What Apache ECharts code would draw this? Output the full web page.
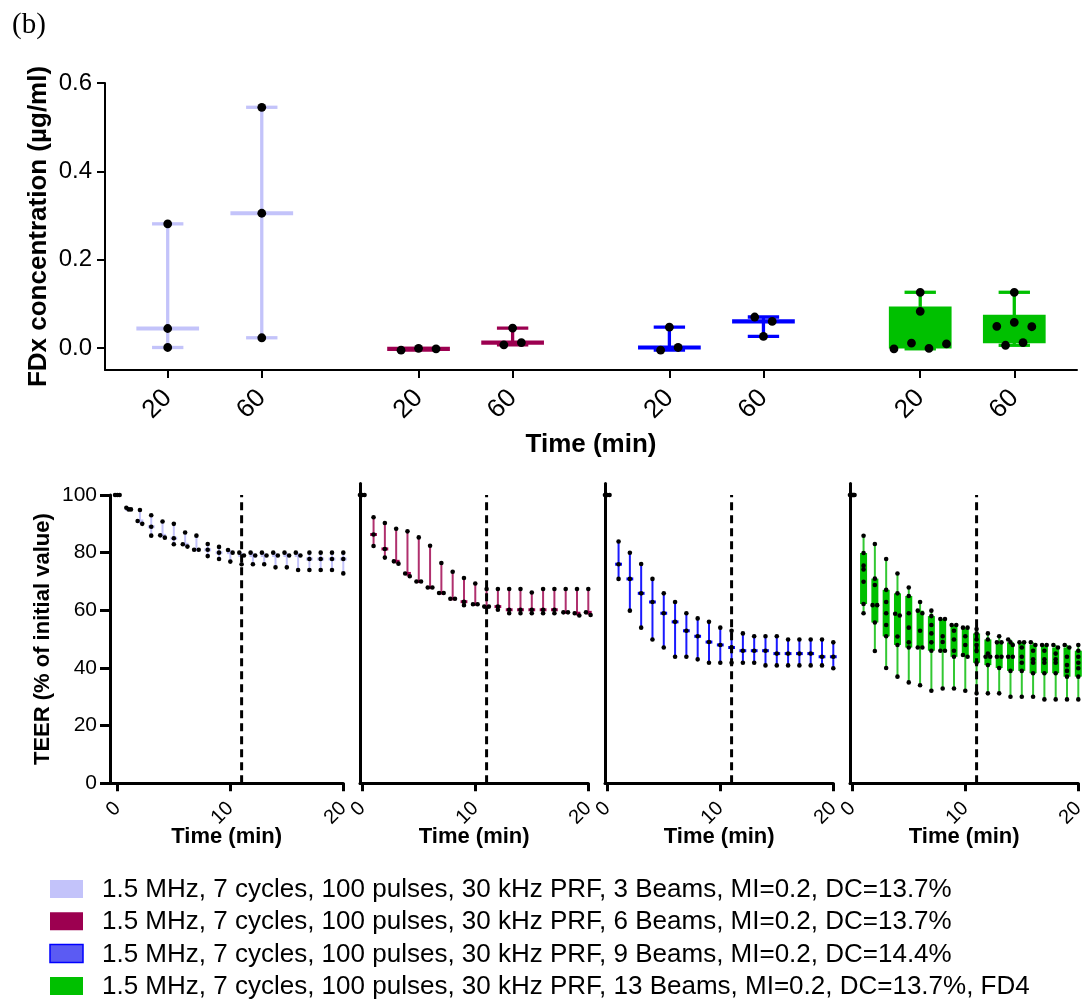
<!DOCTYPE html>
<html>
<head>
<meta charset="utf-8">
<script src="https://cdn.jsdelivr.net/npm/echarts@6/dist/echarts.min.js"></script>
<style>
  html, body { margin: 0; padding: 0; background: #fff; }
  #chart { width: 1090px; height: 1007px; }
</style>
</head>
<body>
<div id="chart"></div>
<script>
// ---------- FDx permeability (µg/ml), per condition, per time point ----------
const fdxTimes = ['20', '60'];
const fdxBeams3  = [[0.281, 0.044, 0.001], [0.545, 0.305, 0.023]];
const fdxBeams6  = [[-0.005, -0.001, -0.002], [0.045, 0.007, 0.012]];
const fdxBeams9  = [[0.047, -0.005, 0.001], [0.070, 0.060, 0.026]];
const fdxBeams13 = [[0.126, 0.083, -0.002, 0.011, -0.001, 0.009],
                    [0.126, 0.049, 0.058, 0.048, 0.006, 0.012]];
const fdxTicks = [0, 0.2, 0.4, 0.6];

// ---------- TEER (% of initial value), one row per minute ----------
const teerTimes = [0, 1, 2, 3, 4, 5, 6, 7, 8, 9, 10, 11, 12, 13, 14, 15, 16, 17, 18, 19, 20];
const teerBeams3 = [
  [100, 100, 100], [95.6, 95.0, 95.0], [94.8, 91.0, 90.0], [93.0, 89.0, 85.9],
  [90.8, 86.0, 85.2], [90.0, 85.0, 82.9], [87.0, 82.9, 82.1], [85.9, 81.0, 81.0],
  [83.0, 81.0, 78.8], [82.0, 80.0, 77.8], [80.9, 80.0, 76.9], [80.0, 79.0, 76.0],
  [80.0, 79.0, 76.0], [80.0, 79.0, 76.0], [80.0, 79.0, 74.9], [80.0, 79.0, 74.9],
  [80.0, 79.0, 74.0], [80.0, 77.8, 74.0], [80.0, 77.8, 74.0], [80.0, 77.8, 74.0],
  [80.0, 77.8, 72.8]
];
const teerBeams6 = [
  [100, 100, 100], [92.3, 86.3, 82.3], [90.3, 81.3, 78.3], [88.3, 77.0, 76.2],
  [87.4, 72.8, 71.8], [85.3, 70.0, 70.0], [82.4, 67.9, 67.9], [76.4, 66.0, 66.0],
  [73.4, 64.0, 64.0], [71.2, 63.0, 61.8], [69.3, 62.1, 62.1], [67.4, 61.3, 61.3],
  [67.4, 61.3, 60.2], [67.4, 60.2, 59.0], [67.4, 60.2, 59.0], [66.2, 60.2, 59.0],
  [67.4, 60.2, 59.0], [67.4, 60.2, 59.0], [67.4, 59.3, 59.3], [67.4, 59.0, 58.2],
  [67.4, 59.3, 58.4]
];
const teerBeams9 = [
  [100, 100, 100], [83.9, 76.0, 70.9], [80.0, 70.9, 59.9], [76.1, 65.9, 54.0],
  [70.9, 62.9, 49.9], [65.9, 59.0, 47.1], [62.9, 56.0, 43.9], [59.0, 52.9, 43.9],
  [57.2, 51.0, 43.0], [56.0, 49.0, 41.8], [54.0, 48.0, 41.8], [52.9, 47.1, 41.8],
  [52.0, 46.0, 41.8], [51.0, 46.0, 41.8], [51.0, 46.0, 40.9], [51.0, 45.0, 40.9],
  [49.9, 45.0, 40.9], [49.9, 45.0, 40.9], [49.9, 45.0, 40.9], [49.9, 43.9, 40.9],
  [48.9, 43.9, 39.9]
];
const teerBeams13 = [
  [100, 100, 100, 100, 100, 100, 100],
  [85.9, 79.9, 75.5, 74.2, 69.9, 62.2, 59.0],
  [83.0, 71.0, 68.8, 61.8, 61.8, 55.8, 45.9],
  [77.8, 67.1, 62.9, 59.0, 54.9, 51.0, 40.0],
  [72.8, 65.9, 58.8, 58.2, 50.9, 48.0, 37.0],
  [67.9, 65.0, 59.0, 54.0, 48.9, 47.1, 35.0],
  [62.9, 59.9, 59.0, 52.9, 47.1, 47.1, 34.0],
  [59.9, 58.0, 54.9, 52.0, 48.9, 46.0, 32.1],
  [57.0, 57.0, 51.0, 49.0, 46.0, 46.0, 32.9],
  [54.9, 54.9, 52.9, 49.9, 46.0, 43.9, 32.9],
  [54.0, 54.0, 51.0, 48.0, 44.5, 43.9, 32.1],
  [53.5, 52.0, 49.9, 48.0, 46.0, 41.8, 31.2],
  [52.0, 49.9, 45.0, 43.9, 43.9, 41.0, 31.2],
  [51.0, 48.9, 48.9, 43.9, 43.9, 40.0, 31.2],
  [49.9, 48.9, 48.0, 43.9, 43.9, 39.0, 30.0],
  [48.9, 48.9, 47.1, 43.9, 41.8, 39.0, 30.0],
  [48.9, 48.0, 46.0, 43.0, 41.8, 38.2, 30.0],
  [48.0, 48.0, 46.0, 43.0, 41.8, 38.2, 29.1],
  [48.0, 47.1, 45.0, 43.0, 41.8, 38.2, 29.1],
  [48.0, 47.1, 43.9, 41.0, 39.0, 37.0, 29.1],
  [48.0, 46.0, 43.9, 41.8, 39.9, 37.0, 29.1]
];
const teerTickValues = [0, 10, 20];
const exposureEnd = 11;   // minute at which sonication stops (dashed line)

const conditionNames = [
  '1.5 MHz, 7 cycles, 100 pulses, 30 kHz PRF, 3 Beams, MI=0.2, DC=13.7%',
  '1.5 MHz, 7 cycles, 100 pulses, 30 kHz PRF, 6 Beams, MI=0.2, DC=13.7%',
  '1.5 MHz, 7 cycles, 100 pulses, 30 kHz PRF, 9 Beams, MI=0.2, DC=14.4%',
  '1.5 MHz, 7 cycles, 100 pulses, 30 kHz PRF, 13 Beams, MI=0.2, DC=13.7%, FD4'
];

// ---------- styling ----------
const SANS = "'Liberation Sans', Arial, sans-serif";
const conditionColors = ['#c3c3fa', '#9c0050', '#0000ff', '#00c000'];
const legendStyles = [
  { color: '#c3c3fa', borderWidth: 0 },
  { color: '#9c0050', borderWidth: 0 },
  { color: '#5b5bf3', borderColor: '#0000ff', borderWidth: 1.5 },
  { color: '#00c000', borderWidth: 0 }
];
const fdxSets = [fdxBeams3, fdxBeams6, fdxBeams9, fdxBeams13];
const teerSets = [teerBeams3, teerBeams6, teerBeams9, teerBeams13];

// ---------- statistics ----------
function sortedCopy(a) { return a.slice().sort((x, y) => x - y); }
function percentile(s, p) {           // (n+1)-based interpolation
  const n = s.length;
  let pos = p * (n + 1);
  if (pos <= 1) return s[0];
  if (pos >= n) return s[n - 1];
  const lo = Math.floor(pos), f = pos - lo;
  return s[lo - 1] + f * (s[lo] - s[lo - 1]);
}
function median(a) {
  const s = sortedCopy(a), n = s.length;
  return n % 2 ? s[(n - 1) / 2] : (s[n / 2 - 1] + s[n / 2]) / 2;
}

// horizontal spread of dots that would overlap (simple beeswarm in pixel space)
function spreadX(values, yPix, cx, spacing, maxSpan, gap) {
  const order = values.map((v, i) => i).sort((a, b) => values[a] - values[b]);
  const clusters = [];
  let cur = [order[0]];
  for (let k = 1; k < order.length; k++) {
    const prev = cur[cur.length - 1];
    if (Math.abs(yPix[order[k]] - yPix[prev]) < gap) cur.push(order[k]);
    else { clusters.push(cur); cur = [order[k]]; }
  }
  clusters.push(cur);
  const xs = new Array(values.length);
  clusters.forEach(c => {
    c.sort((a, b) => a - b);
    const n = c.length;
    const s = n > 1 ? Math.min(spacing, maxSpan / (n - 1)) : 0;
    c.forEach((i, k) => { xs[i] = cx + (k - (n - 1) / 2) * s; });
  });
  return xs;
}

// one column: range whiskers (or box & whiskers), median, replicate dots
function drawColumn(values, xVal, api, o) {
  const unit = api.size([1, 0])[0];
  const s = sortedCopy(values);
  const lo = s[0], hi = s[s.length - 1], med = median(values);
  const cx = api.coord([xVal, med])[0];
  const yOf = v => api.coord([xVal, v])[1];
  const kids = [];
  kids.push({ type: 'line', shape: { x1: cx, y1: yOf(lo), x2: cx, y2: yOf(hi) },
              style: { stroke: o.whiskerColor, lineWidth: o.whiskerWidth } });
  if (o.capWidth > 0) {
    const hw = o.capWidth * unit / 2;
    [lo, hi].forEach(v => kids.push({ type: 'line',
      shape: { x1: cx - hw, y1: yOf(v), x2: cx + hw, y2: yOf(v) },
      style: { stroke: o.color, lineWidth: o.capLineWidth } }));
  }
  if (o.box) {
    const q1 = percentile(s, 0.25), q3 = percentile(s, 0.75);
    const hw = o.boxWidth * unit / 2;
    kids.push({ type: 'rect',
      shape: { x: cx - hw, y: yOf(q3), width: 2 * hw, height: yOf(q1) - yOf(q3) },
      style: { fill: o.color } });
  } else {
    const hw = o.medianWidth * unit / 2;
    kids.push({ type: 'line', shape: { x1: cx - hw, y1: yOf(med), x2: cx + hw, y2: yOf(med) },
                style: { stroke: o.color, lineWidth: o.medianLineWidth } });
  }
  const yPix = values.map(yOf);
  const xs = spreadX(values, yPix, cx, o.dotSpacing, o.dotMaxSpan, o.dotGap);
  values.forEach((v, i) => kids.push({ type: 'circle',
    shape: { cx: xs[i], cy: yPix[i], r: o.dotRadius }, style: { fill: '#000' } }));
  return { type: 'group', children: kids };
}

// column position on the upper axis: 8 units per condition, 3 between times
function fdxPosition(ci, ti) { return ci * 8 + 2 + ti * 3; }
const fdxPositions = [], fdxPositionLabels = {};
fdxSets.forEach((set, ci) => fdxTimes.forEach((t, ti) => {
  const p = fdxPosition(ci, ti);
  fdxPositions.push(p);
  fdxPositionLabels[p] = t;
}));

// ---------- layout ----------
const grids = [
  { left: 105, top: 83, width: 972, height: 287 },
  { left: 110, top: 495, width: 233.3, height: 288.3 },
  { left: 360, top: 483.5, width: 228.3, height: 299.8 },
  { left: 605, top: 483.5, width: 228.3, height: 299.8 },
  { left: 850, top: 483.5, width: 228.3, height: 299.8 }
].map(g => Object.assign({ outerBoundsMode: 'none', containLabel: false }, g));

const xAxes = [{
  type: 'value', gridIndex: 0, min: 0, max: 31,
  axisLine: { onZero: false, lineStyle: { color: '#000', width: 2 } },
  axisTick: { customValues: fdxPositions, length: 8, lineStyle: { color: '#000', width: 2 } },
  axisLabel: { customValues: fdxPositions, rotate: 45, margin: 24,
               formatter: v => fdxPositionLabels[v] || '',
               fontFamily: SANS, fontSize: 26, color: '#000' },
  splitLine: { show: false },
  name: 'Time (min)', nameLocation: 'middle', nameGap: 62, nameMoveOverlap: false,
  nameTextStyle: { fontFamily: SANS, fontSize: 26, fontWeight: 'bold', color: '#000' }
}];
const yAxes = [{
  type: 'value', gridIndex: 0, min: -0.05, max: 0.6,
  axisLine: { show: true, onZero: false, lineStyle: { color: '#000', width: 2 } },
  axisTick: { show: true, customValues: fdxTicks, length: 8, lineStyle: { color: '#000', width: 2 } },
  axisLabel: { customValues: fdxTicks, formatter: v => v.toFixed(1), margin: 13,
               fontFamily: SANS, fontSize: 24, color: '#000' },
  splitLine: { show: false },
  name: 'FDx concentration (\u00b5g/ml)', nameLocation: 'middle', nameGap: 53, nameMoveOverlap: false,
  nameTextStyle: { fontFamily: SANS, fontSize: 26, fontWeight: 'bold', color: '#000' }
}];

for (let p = 0; p < 4; p++) {
  const g = p + 1;
  xAxes.push({
    type: 'value', gridIndex: g, min: p === 0 ? -0.65 : -0.2, max: 20,
    axisLine: { onZero: false, lineStyle: { color: '#000', width: 3 } },
    axisTick: { customValues: teerTickValues, length: 8, lineStyle: { color: '#000', width: 3 } },
    axisLabel: { customValues: teerTickValues, rotate: 45, margin: 22,
                 fontFamily: SANS, fontSize: 20, color: '#000' },
    splitLine: { show: false },
    name: 'Time (min)', nameLocation: 'middle', nameGap: 43, nameMoveOverlap: false,
    nameTextStyle: { fontFamily: SANS, fontSize: 22, fontWeight: 'bold', color: '#000' }
  });
  yAxes.push(p === 0 ? {
    type: 'value', gridIndex: g, min: 0, max: 100, interval: 20,
    axisLine: { show: true, onZero: false, lineStyle: { color: '#000', width: 3 } },
    axisTick: { show: true, length: 10, lineStyle: { color: '#000', width: 3 } },
    axisLabel: { margin: 13, fontFamily: SANS, fontSize: 21, color: '#000' },
    splitLine: { show: false },
    name: 'TEER (% of initial value)', nameLocation: 'middle', nameGap: 56, nameMoveOverlap: false,
    nameTextStyle: { fontFamily: SANS, fontSize: 22, fontWeight: 'bold', color: '#000' }
  } : {
    type: 'value', gridIndex: g, min: 0, max: 104,
    axisLine: { show: true, onZero: false, lineStyle: { color: '#000', width: 3 } },
    axisTick: { show: false }, axisLabel: { show: false }, splitLine: { show: false }
  });
}

// ---------- series ----------
const series = [];
fdxSets.forEach((set, ci) => {
  const isBox = set[0].length > 3;
  series.push({
    type: 'custom', name: conditionNames[ci], xAxisIndex: 0, yAxisIndex: 0,
    itemStyle: legendStyles[ci],
    data: set.map((vals, ti) => [fdxPosition(ci, ti), median(vals)]),
    renderItem: (params, api) => drawColumn(set[params.dataIndex], fdxPosition(ci, params.dataIndex), api, {
      color: conditionColors[ci], whiskerColor: conditionColors[ci], whiskerWidth: 3.3,
      capWidth: 1, capLineWidth: 3.3, box: isBox, boxWidth: 2,
      medianWidth: 2, medianLineWidth: 4.2,
      dotRadius: 4.4, dotSpacing: 17.5, dotMaxSpan: 56, dotGap: 9
    })
  });
});
const teerWhisker = ['#c3c3fa', '#b0306e', '#1a1aff', '#33c833'];
teerSets.forEach((set, ci) => {
  const isBox = set[0].length > 3;
  series.push({
    type: 'custom', name: conditionNames[ci], xAxisIndex: ci + 1, yAxisIndex: ci + 1,
    itemStyle: legendStyles[ci],
    data: set.map((vals, ti) => [teerTimes[ti], median(vals)]),
    renderItem: (params, api) => drawColumn(set[params.dataIndex], teerTimes[params.dataIndex], api, {
      color: conditionColors[ci], whiskerColor: teerWhisker[ci], whiskerWidth: 2,
      capWidth: 0, capLineWidth: 2, box: isBox, boxWidth: 0.62,
      medianWidth: 0.6, medianLineWidth: 3,
      dotRadius: 2.3, dotSpacing: 4.6, dotMaxSpan: 4.6, dotGap: 2.9
    })
  });
  series.push({
    type: 'line', xAxisIndex: ci + 1, yAxisIndex: ci + 1, z: 5,
    data: [[exposureEnd, 0], [exposureEnd, 100]], symbol: 'none', silent: true,
    lineStyle: { color: '#000', width: 3, type: [8, 5] }
  });
});

// ---------- key: colour swatch + label per condition ----------
const keyTop = 889, keyPitch = 32.3;
const keyGraphics = [];
conditionNames.forEach((name, i) => {
  const cy = keyTop + i * keyPitch;
  const st = legendStyles[i];
  keyGraphics.push({
    type: 'rect', x: 50, y: cy - 9,
    shape: { width: 33, height: 18 },
    style: { fill: st.color, stroke: st.borderColor || null, lineWidth: st.borderWidth || 0 }
  });
  keyGraphics.push({
    type: 'text', x: 102, y: cy + 1,
    style: { text: name, font: "26px 'Liberation Sans', Arial, sans-serif",
             fill: '#000', verticalAlign: 'middle', align: 'left' }
  });
});

const chart = echarts.init(document.getElementById('chart'), null, { renderer: 'canvas' });
chart.setOption({
  animation: false,
  backgroundColor: '#fff',
  grid: grids,
  xAxis: xAxes,
  yAxis: yAxes,
  series: series,
  graphic: [{
    type: 'text', left: 12, top: 11,
    style: { text: '(b)', font: "29px 'Liberation Serif', 'Times New Roman', serif", fill: '#000' }
  }].concat(keyGraphics)
});
</script>
</body>
</html>
